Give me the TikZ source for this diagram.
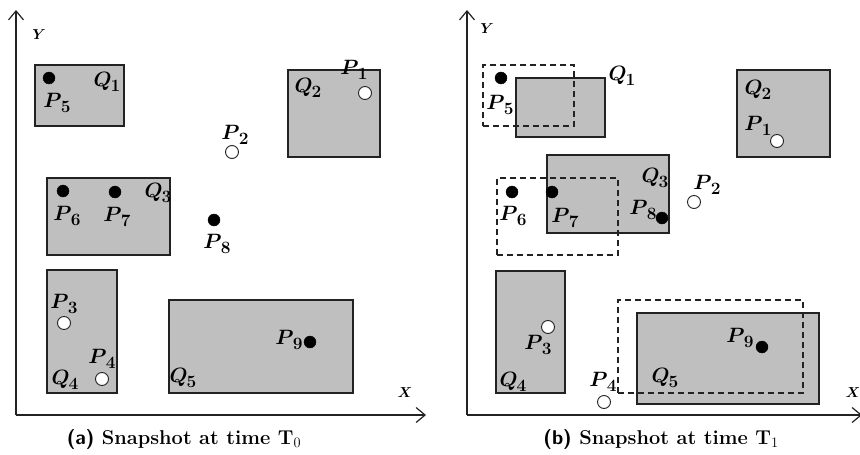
\documentclass[tikz,border=0pt]{standalone}
\usetikzlibrary{arrows.meta}
\definecolor{qgrey}{HTML}{BFBFBF}
\definecolor{ink}{HTML}{222222}
\newcommand\lbl[2]{$#1$\kern-1pt\raisebox{-5pt}{\fontsize{16}{16}\selectfont$#2$}}
\tikzset{
  qbox/.style={draw=ink, line width=1.4pt, fill=qgrey, anchor=north west, inner sep=0pt, outer sep=0pt},
  oldbox/.style={draw=ink, line width=1.4pt, dash pattern=on 6pt off 4pt, anchor=north west, inner sep=0pt, outer sep=0pt},
  fdot/.style={circle, fill=black, draw=black, minimum size=12pt, inner sep=0pt},
  odot/.style={circle, fill=white, draw=ink, line width=0.9pt, minimum size=13pt, inner sep=0pt},
  lab/.style={font=\fontsize{20}{20}\selectfont\boldmath, inner sep=0pt},
  axlab/.style={font=\fontsize{14}{14}\selectfont\boldmath, inner sep=0pt},
  axis/.style={draw=ink, line width=1.3pt, -{Straight Barb[length=9pt,width=15pt,line width=1.2pt]}},
  captext/.style={font=\fontsize{20}{20}\selectfont\bfseries, inner sep=0pt}
}
\begin{document}
\begin{tikzpicture}[x=1pt,y=-1pt]
\useasboundingbox (0,0) rectangle (860,455);
% ---------------- panel (a)
\coordinate (ao) at (16,415);
\coordinate (ay) at (16,10);
\coordinate (ax) at (426,415);
\draw[axis] (ao) -- (ay);
\draw[axis] (ao) -- (ax);
\node[axlab] (aYl) at (39,35) {$Y$};
\node[axlab] (aXl) at (405,393) {$X$};
\node[qbox, minimum width=89pt, minimum height=61pt] (aq1) at (35,65) {};
\node[qbox, minimum width=92pt, minimum height=87pt] (aq2) at (288,70) {};
\node[qbox, minimum width=123pt, minimum height=77pt] (aq3) at (47,178) {};
\node[qbox, minimum width=70pt, minimum height=123pt] (aq4) at (47,270) {};
\node[qbox, minimum width=184pt, minimum height=93pt] (aq5) at (169,300) {};
\node[lab] (aq1l) at (107,82) {\lbl{Q}{1}};
\node[lab] (aq2l) at (308,88) {\lbl{Q}{2}};
\node[lab] (aq3l) at (158,193) {\lbl{Q}{3}};
\node[lab] (aq4l) at (65,380) {\lbl{Q}{4}};
\node[lab] (aq5l) at (183,378) {\lbl{Q}{5}};
\node[odot] (ap1) at (365,93) {};
\node[odot] (ap2) at (232,152) {};
\node[odot] (ap3) at (64,323) {};
\node[odot] (ap4) at (102,379) {};
\node[fdot] (ap5) at (49,78) {};
\node[fdot] (ap6) at (63,191) {};
\node[fdot] (ap7) at (115,192) {};
\node[fdot] (ap8) at (214,220) {};
\node[fdot] (ap9) at (310,342) {};
\node[lab] (ap1l) at (354,70) {\lbl{P}{1}};
\node[lab] (ap2l) at (235,135) {\lbl{P}{2}};
\node[lab] (ap3l) at (64,304) {\lbl{P}{3}};
\node[lab] (ap4l) at (102,359) {\lbl{P}{4}};
\node[lab] (ap5l) at (57,103) {\lbl{P}{5}};
\node[lab] (ap6l) at (67,216) {\lbl{P}{6}};
\node[lab] (ap7l) at (117,217) {\lbl{P}{7}};
\node[lab] (ap8l) at (217,244) {\lbl{P}{8}};
\node[lab] (ap9l) at (289,340) {\lbl{P}{9}};
\node[captext] (acap) at (184,439) {\textsf{(a)} Snapshot at time T$_0$};
% ---------------- panel (b)
\coordinate (bo) at (467,415);
\coordinate (by) at (467,10);
\coordinate (bx) at (862,415);
\draw[axis] (bo) -- (by);
\draw[axis] (bo) -- (bx);
\node[axlab] (bYl) at (487,29) {$Y$};
\node[axlab] (bXl) at (853,393) {$X$};
\node[qbox, minimum width=89pt, minimum height=59pt] (bq1) at (516,78) {};
\node[qbox, minimum width=93pt, minimum height=87pt] (bq2) at (737,70) {};
\node[qbox, minimum width=122pt, minimum height=78pt] (bq3) at (547,155) {};
\node[qbox, minimum width=69pt, minimum height=122pt] (bq4) at (496,271) {};
\node[qbox, minimum width=182pt, minimum height=91pt] (bq5) at (637,313) {};
\node[oldbox, minimum width=91pt, minimum height=61pt] (bq1o) at (483,65) {};
\node[oldbox, minimum width=121pt, minimum height=77pt] (bq3o) at (497,178) {};
\node[oldbox, minimum width=185pt, minimum height=93pt] (bq5o) at (618,300) {};
\node[lab] (bq1l) at (622,76) {\lbl{Q}{1}};
\node[lab] (bq2l) at (758,90) {\lbl{Q}{2}};
\node[lab] (bq3l) at (655,178) {\lbl{Q}{3}};
\node[lab] (bq4l) at (513,382) {\lbl{Q}{4}};
\node[lab] (bq5l) at (665,378) {\lbl{Q}{5}};
\node[odot] (bp1) at (777,141) {};
\node[odot] (bp2) at (694,202) {};
\node[odot] (bp3) at (548,327) {};
\node[odot] (bp4) at (604,402) {};
\node[fdot] (bp5) at (501,78) {};
\node[fdot] (bp6) at (512,192) {};
\node[fdot] (bp7) at (552,192) {};
\node[fdot] (bp8) at (662,218) {};
\node[fdot] (bp9) at (762,347) {};
\node[lab] (bp1l) at (758,126) {\lbl{P}{1}};
\node[lab] (bp2l) at (707,185) {\lbl{P}{2}};
\node[lab] (bp3l) at (538,345) {\lbl{P}{3}};
\node[lab] (bp4l) at (603,382) {\lbl{P}{4}};
\node[lab] (bp5l) at (500,105) {\lbl{P}{5}};
\node[lab] (bp6l) at (513,216) {\lbl{P}{6}};
\node[lab] (bp7l) at (565,218) {\lbl{P}{7}};
\node[lab] (bp8l) at (643,210) {\lbl{P}{8}};
\node[lab] (bp9l) at (740,338) {\lbl{P}{9}};
\node[captext] (bcap) at (661,439) {\textsf{(b)} Snapshot at time T$_1$};
\end{tikzpicture}
\end{document}
